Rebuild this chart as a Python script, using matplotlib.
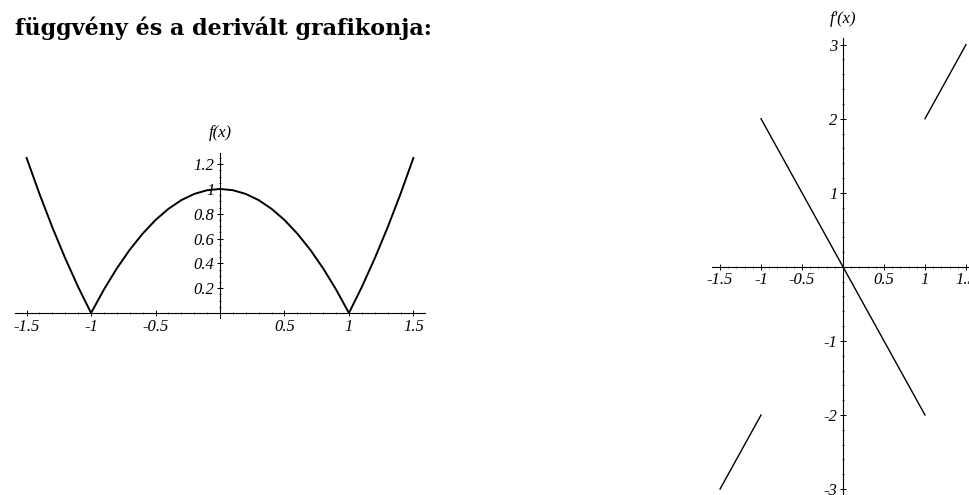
import matplotlib
matplotlib.use("Agg")
import matplotlib.pyplot as plt
from matplotlib.ticker import FixedLocator

# f(x) = |1 - x^2|, sampled every 0.1
fx = [-1.5, -1.4, -1.3, -1.2, -1.1, -1.0, -0.9, -0.8, -0.7, -0.6, -0.5,
      -0.4, -0.3, -0.2, -0.1, 0.0, 0.1, 0.2, 0.3, 0.4, 0.5, 0.6, 0.7,
      0.8, 0.9, 1.0, 1.1, 1.2, 1.3, 1.4, 1.5]
fy = [1.25, 0.96, 0.69, 0.44, 0.21, 0.0, 0.19, 0.36, 0.51, 0.64, 0.75,
      0.84, 0.91, 0.96, 0.99, 1.0, 0.99, 0.96, 0.91, 0.84, 0.75, 0.64, 0.51,
      0.36, 0.19, 0.0, 0.21, 0.44, 0.69, 0.96, 1.25]

# f'(x): three straight pieces
dseg_x = [[-1.5, -1.0], [-1.0, 1.0], [1.0, 1.5]]
dseg_y = [[-3.0, -2.0], [2.0, -2.0], [2.0, 3.0]]

fx_ticks = [-1.5, -1, -0.5, 0.5, 1, 1.5]
fx_labels = ["-1.5", "-1", "-0.5", "0.5", "1", "1.5"]
fy_ticks = [0.2, 0.4, 0.6, 0.8, 1.0, 1.2]
fy_labels = ["0.2", "0.4", "0.6", "0.8", "1", "1.2"]

dx_ticks = [-1.5, -1, -0.5, 0.5, 1, 1.5]
dx_labels = ["-1.5", "-1", "-0.5", "0.5", "1", "1.5"]
dy_ticks = [-3, -2, -1, 1, 2, 3]
dy_labels = ["-3", "-2", "-1", "1", "2", "3"]

W, H = 970, 495
fig = plt.figure(figsize=(W / 100, H / 100), dpi=100)

tickfont = dict(family="Liberation Serif", style="italic", size=12)


def axes_px(x0, y0, x1, y1):
    # pixel box (top-left origin) -> figure fraction
    return fig.add_axes([x0 / W, 1 - y1 / H, (x1 - x0) / W, (y1 - y0) / H])


def math_axes(ax, xt, xl, yt, yl, xminor, yminor):
    for s in ["top", "right"]:
        ax.spines[s].set_visible(False)
    for s in ["left", "bottom"]:
        ax.spines[s].set_position(("data", 0))
        ax.spines[s].set_linewidth(0.8)
    ax.set_xticks(xt)
    ax.set_xticklabels(xl, fontdict=tickfont)
    ax.set_yticks(yt)
    ax.set_yticklabels(yl, fontdict=tickfont)
    ax.xaxis.set_minor_locator(FixedLocator(xminor))
    ax.yaxis.set_minor_locator(FixedLocator(yminor))
    ax.tick_params(which="major", direction="inout", length=4, width=0.7, pad=2)
    ax.tick_params(which="minor", direction="inout", length=2, width=0.5)
    ax.patch.set_visible(False)


# left: the function
ax1 = axes_px(15, 153, 425, 318)
ax1.plot(fx, fy, color="black", lw=1.4, clip_on=False)
ax1.set_xlim(-1.59, 1.59)
ax1.set_ylim(-0.04, 1.29)
math_axes(ax1, fx_ticks, fx_labels, fy_ticks, fy_labels,
          [i / 10 for i in range(-15, 16)], [i / 20 for i in range(0, 26)])
ax1.text(0, 1.45, "f(x)", ha="center", va="center", fontdict=tickfont)

# right: the derivative
ax2 = axes_px(712, 38, 970, 495)
for xs, ys in zip(dseg_x, dseg_y):
    ax2.plot(xs, ys, color="black", lw=1.0, clip_on=False)
ax2.set_xlim(-1.598, 1.549)
ax2.set_ylim(-3.08, 3.09)
math_axes(ax2, dx_ticks, dx_labels, dy_ticks, dy_labels,
          [i / 10 for i in range(-15, 16)], [i / 5 for i in range(-15, 16)])
ax2.text(0, 3.35, "f'(x)", ha="center", va="center", fontdict=tickfont)

fig.text(15 / W, 1 - 35 / H, "függvény és a derivált grafikonja:",
         family="DejaVu Serif", weight="bold", size=16, ha="left", va="baseline")

fig.savefig("out.png", dpi=100)
